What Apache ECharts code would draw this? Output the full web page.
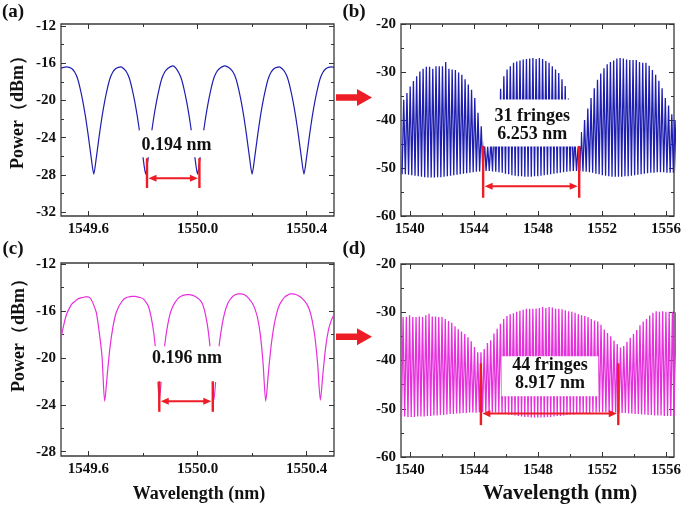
<!DOCTYPE html>
<html><head><meta charset="utf-8">
<script src="https://cdn.jsdelivr.net/npm/echarts@6/dist/echarts.min.js"></script>
<style>html,body{margin:0;padding:0;background:#fff}#main{width:685px;height:508px}</style>
</head><body><div id="main"></div>
<script>
// ---------- DATA ----------
// (a) sampled every 0.01 nm from 1549.50 nm
const aStart = 1549.50, aStep = 0.01;
const aPower = [
 -16.55,-16.45,-16.4,-16.45,-16.6,-16.95,-17.6,-18.7,-20.1,-21.8,
 -23.8,-26.0,-27.9,-26.0,-23.8,-21.8,-20.1,-18.7,-17.6,-16.95,
 -16.6,-16.45,-16.4,-16.6,-16.95,-17.6,-18.7,-20.1,-21.8,-23.8,
 -26.0,-27.9,-26.0,-23.8,-21.8,-20.1,-18.7,-17.6,-16.95,-16.6,
 -16.4,-16.3,-16.5,-16.95,-17.6,-18.7,-20.1,-21.8,-23.8,-26.0,
 -27.9,-26.0,-23.8,-21.8,-20.1,-18.7,-17.6,-16.95,-16.6,-16.4,
 -16.3,-16.4,-16.6,-16.95,-17.6,-18.7,-20.1,-21.8,-23.8,-26.0,
 -27.9,-26.0,-23.8,-21.8,-20.1,-18.7,-17.6,-16.95,-16.6,-16.45,
 -16.4,-16.6,-16.95,-17.6,-18.7,-20.1,-21.8,-23.8,-26.0,-27.9,
 -26.0,-23.8,-21.8,-20.1,-18.7,-17.6,-16.95,-16.6,-16.45,-16.4,
 -16.45
];
// (c) sampled every 0.01 nm from 1549.50 nm
const cStart = 1549.50, cStep = 0.01;
const cPower = [
 -18.3,-17.2,-16.3,-15.8,-15.4,-15.2,-15.0,-14.9,-14.85,-14.8,
 -14.8,-15.0,-15.5,-16.2,-17.8,-19.8,-23.7,-21.3,-19.0,-17.4,
 -16.3,-15.7,-15.3,-15.0,-14.85,-14.8,-14.75,-14.75,-14.8,-14.85,
 -14.95,-15.2,-15.6,-16.5,-17.9,-20.2,-23.6,-21.2,-18.9,-17.3,
 -16.2,-15.6,-15.2,-14.9,-14.75,-14.65,-14.6,-14.6,-14.65,-14.75,
 -14.9,-15.1,-15.5,-16.4,-17.8,-20.2,-23.6,-21.0,-18.8,-17.2,
 -16.1,-15.4,-15.0,-14.75,-14.6,-14.55,-14.55,-14.6,-14.75,-15.0,
 -15.3,-15.8,-16.6,-18.0,-20.4,-23.7,-21.2,-18.9,-17.3,-16.2,
 -15.5,-15.1,-14.8,-14.65,-14.55,-14.55,-14.6,-14.7,-14.85,-15.1,
 -15.4,-15.9,-16.8,-18.2,-20.5,-23.6,-21.2,-19.0,-17.6,-16.8,
 -16.3
];
// (b) fringe peaks / troughs (dBm), one per fringe; spacing 6.253 nm / 31 fringes
const bFringeStart = 1539.62, bFringeSpacing = 6.253 / 31;
const bPeak = [
 -35.8,-34.4,-33.0,-31.9,-30.9,-29.9,-29.3,-28.9,-28.9,-29.3,
 -28.8,-28.8,-28.8,-27.9,-29.3,-29.5,-29.6,-30.1,-30.6,-31.5,
 -32.6,-33.7,-35.4,-38.5,-41.3,-44.5,-45.5,-44.0,-40.0,-36.5,
 -33.5,-30.9,-29.5,-28.8,-28.1,-27.8,-27.6,-27.4,-27.3,-27.2,
 -27.1,-27.3,-27.1,-27.3,-27.7,-28.1,-28.8,-29.5,-30.2,-31.5,
 -32.9,-35.5,-39.0,-44.0,-45.5,-42.5,-40.0,-37.6,-35.4,-33.4,
 -31.6,-30.3,-29.2,-28.4,-27.9,-27.6,-27.2,-27.1,-27.2,-27.4,
 -27.5,-27.5,-27.5,-27.9,-28.1,-28.1,-28.7,-29.6,-30.6,-31.8,
 -33.4,-35.4,-37.0,-38.8,-40.0
];
const bTrough = [
 -51.3,-51.4,-51.5,-51.6,-51.7,-51.8,
 -51.9,-52.0,-52.0,-52.0,-51.9,-51.9,-51.8,-51.7,-51.6,
 -51.5,-51.4,-51.3,-51.2,-51.1,-51.0,
 -50.9,-50.8,-50.7,-50.6,-50.6,-50.6,-50.7,-50.8,-50.9,
 -51.0,-51.2,-51.3,-51.5,-51.6,-51.7,-51.7,-51.8,-51.8,-51.8,-51.7,
 -51.7,-51.6,-51.5,-51.4,-51.3,-51.2,-51.1,-51.0,-50.9,-50.8,
 -50.7,-50.6,-50.6,-50.6,-50.7,-50.8,
 -50.9,-51.0,-51.2,-51.3,-51.5,-51.6,-51.7,-51.8,-51.8,-51.8,-51.8,-51.7,-51.7,
 -51.6,-51.5,-51.4,-51.3,-51.2,-51.1,-51.0,-51.0,-50.9,-50.9,-50.9,-51.0,-51.0,-51.0,-51.0
];
// (d) spacing 8.917 nm / 44 fringes
const dFringeStart = 1539.58, dFringeSpacing = 8.917 / 44;
const dPeak = [
 -31.0,-31.0,-30.6,-31.0,-31.0,-30.9,-31.0,-30.6,-30.3,-30.9,
 -30.9,-31.0,-31.0,-31.4,-31.8,-32.2,-32.9,-33.5,-34.0,-34.5,
 -35.2,-36.0,-37.2,-38.3,-38.3,-37.6,-36.4,-35.8,-34.4,-33.4,
 -32.4,-31.4,-30.8,-30.4,-30.2,-29.9,-29.7,-29.5,-29.3,-29.3,
 -29.3,-29.2,-29.1,-28.9,-29.1,-28.9,-29.0,-29.3,-29.3,-29.4,
 -29.6,-29.8,-29.9,-30.1,-30.4,-30.6,-30.8,-31.0,-31.4,-31.7,
 -31.9,-32.6,-33.6,-34.3,-35.0,-35.9,-36.6,-37.3,-37.0,-36.1,
 -35.3,-34.5,-33.7,-32.7,-31.9,-31.4,-30.7,-30.1,-29.8,-29.9,
 -29.8,-29.9,-29.9,-29.9,-30.0
];
const dTrough = [
 -51.6,-51.7,-51.7,-51.7,-51.6,-51.6,-51.6,-51.5,-51.5,-51.4,-51.4,-51.3,-51.3,
 -51.2,-51.1,-51.1,-51.0,-51.0,-50.9,-50.9,-50.8,-50.8,-50.8,
 -50.7,-50.7,-50.7,-50.7,-50.8,-50.8,
 -50.9,-51.0,-51.1,-51.2,-51.3,-51.4,-51.5,-51.6,-51.7,-51.7,
 -51.8,-51.8,-51.8,-51.8,-51.8,-51.7,-51.7,-51.6,-51.5,-51.5,
 -51.4,-51.3,-51.2,-51.2,-51.1,-51.0,-51.0,
 -50.9,-50.9,-50.8,-50.8,-50.7,-50.7,-50.7,-50.7,-50.7,-50.8,-50.8,-50.9,-50.9,
 -51.0,-51.0,-51.1,-51.1,-51.2,-51.2,-51.3,-51.3,-51.4,-51.4,-51.4,-51.5,-51.5,-51.5,-51.5,-51.5
];
// tick values
const xTicksAC = [1549.6, 1550.0, 1550.4], xMinorAC = [1549.8, 1550.2];
const yTicksA = [-32, -28, -24, -20, -16, -12], yMinorA = [-30, -26, -22, -18, -14];
const yTicksC = [-28, -24, -20, -16, -12], yMinorC = [-26, -22, -18, -14];
const xTicksBD = [1540, 1544, 1548, 1552, 1556], xMinorBD = [1542, 1546, 1550, 1554];
const yTicksBD = [-60, -50, -40, -30, -20], yMinorBD = [-55, -45, -35, -25];
// annotations
const annA = { texts: ['0.194 nm'], bars: [1549.815, 1550.007] };
const annB = { texts: ['31 fringes', '6.253 nm'], bars: [1544.58, 1550.58] };
const annC = { texts: ['0.196 nm'], bars: [1549.86, 1550.056] };
const annD = { texts: ['44 fringes', '8.917 nm'], bars: [1544.44, 1553.02] };

// ---------- build series data ----------
function sampled(start, step, vals) { return vals.map((v, i) => [+(start + i * step).toFixed(3), v]); }
function fringes(start, sp, peaks, troughs) {
  const out = [[start - sp / 2, troughs[0]]];
  peaks.forEach((p, i) => { out.push([start + i * sp, p]); out.push([start + (i + 0.5) * sp, troughs[i]]); });
  return out;
}
const BLUE = '#1e1eb0', MAG = '#e530dc', RED = '#ee1c24';
const FONT = '"Liberation Serif","Times New Roman",serif';

const panels = [
  { grid: { left: 61, top: 24, width: 273, height: 192 }, x: [1549.5, 1550.5], y: [-32.4, -11.8],
    xMaj: xTicksAC, xMin: xMinorAC, yMaj: yTicksA, yMin: yMinorA, fmt: v => v.toFixed(1),
    data: sampled(aStart, aStep, aPower), color: BLUE, lw: 1.2, smooth: 0.25 },
  { grid: { left: 401, top: 24, width: 273, height: 192 }, x: [1539.45, 1556.5], y: [-60, -20],
    xMaj: xTicksBD, xMin: xMinorBD, yMaj: yTicksBD, yMin: yMinorBD, fmt: v => String(v),
    data: fringes(bFringeStart, bFringeSpacing, bPeak, bTrough), color: BLUE, lw: 1.3, smooth: false },
  { grid: { left: 61, top: 263, width: 273, height: 193 }, x: [1549.5, 1550.5], y: [-28.37, -11.91],
    xMaj: xTicksAC, xMin: xMinorAC, yMaj: yTicksC, yMin: yMinorC, fmt: v => v.toFixed(1),
    data: sampled(cStart, cStep, cPower), color: MAG, lw: 1.2, smooth: 0.25 },
  { grid: { left: 401, top: 264, width: 273, height: 193 }, x: [1539.45, 1556.5], y: [-60, -20],
    xMaj: xTicksBD, xMin: xMinorBD, yMaj: yTicksBD, yMin: yMinorBD, fmt: v => String(v),
    data: fringes(dFringeStart, dFringeSpacing, dPeak, dTrough), color: MAG, lw: 1.3, smooth: false }
];

const grids = [], xAxes = [], yAxes = [], series = [], axIdx = [];
const labelStyle = { fontFamily: FONT, fontWeight: 'bold', fontSize: 15, color: '#111' };
panels.forEach((p, gi) => {
  grids.push(Object.assign({ show: true, borderColor: '#3a3a3a', borderWidth: 1.3, backgroundColor: 'transparent', containLabel: false, outerBoundsMode: 'none' }, p.grid));
  const base = (dim) => ({ type: 'value', gridIndex: gi, min: dim[0], max: dim[1], splitLine: { show: false }, axisLine: { show: false }, silent: true });
  const tick = (vals, len) => ({ show: true, inside: true, length: len, customValues: vals, lineStyle: { color: '#333', width: 1 } });
  const xi = xAxes.length, yi = yAxes.length;
  xAxes.push(Object.assign(base(p.x), { position: 'bottom', axisTick: tick(p.xMaj, 5), axisLabel: Object.assign({ show: true, customValues: p.xMaj, formatter: p.fmt, margin: 6 }, labelStyle) }));
  xAxes.push(Object.assign(base(p.x), { position: 'bottom', axisTick: tick(p.xMin, 3), axisLabel: { show: false } }));
  xAxes.push(Object.assign(base(p.x), { position: 'top', axisTick: tick(p.xMaj, 5), axisLabel: { show: false } }));
  xAxes.push(Object.assign(base(p.x), { position: 'top', axisTick: tick(p.xMin, 3), axisLabel: { show: false } }));
  yAxes.push(Object.assign(base(p.y), { position: 'left', axisTick: tick(p.yMaj, 5), axisLabel: Object.assign({ show: true, customValues: p.yMaj, margin: 5 }, labelStyle) }));
  yAxes.push(Object.assign(base(p.y), { position: 'left', axisTick: tick(p.yMin, 3), axisLabel: { show: false } }));
  yAxes.push(Object.assign(base(p.y), { position: 'right', axisTick: tick(p.yMaj, 5), axisLabel: { show: false } }));
  yAxes.push(Object.assign(base(p.y), { position: 'right', axisTick: tick(p.yMin, 3), axisLabel: { show: false } }));
  axIdx.push({ xi, yi });
  series.push({ type: 'line', xAxisIndex: xi, yAxisIndex: yi, data: p.data, showSymbol: false, symbol: 'none',
    smooth: p.smooth, lineStyle: { color: p.color, width: p.lw }, clip: true, silent: true, z: 2 });
});

const chart = echarts.init(document.getElementById('main'));
chart.setOption({ animation: false, backgroundColor: '#fff', grid: grids, xAxis: xAxes, yAxis: yAxes, series });

// ---------- annotations (positioned from data coordinates) ----------
function P(pi, x, y) { return chart.convertToPixel({ xAxisIndex: axIdx[pi].xi, yAxisIndex: axIdx[pi].yi }, [x, y]); }
const g = [];
function txt(x, y, s, size, rot) {
  g.push({ type: 'text', x, y, rotation: rot || 0, z: 60,
    style: { text: s, font: 'bold ' + size + 'px ' + FONT, fill: '#111', align: 'center', verticalAlign: 'middle', textAlign: 'center', textVerticalAlign: 'middle' } });
}
function measure(pi, ann, box, textY, barTop, barBot, arrowY) {
  const b1 = P(pi, box[0], box[2]), b2 = P(pi, box[1], box[3]);
  g.push({ type: 'rect', z: 50, shape: { x: b1[0], y: b1[1], width: b2[0] - b1[0], height: b2[1] - b1[1] }, style: { fill: '#fff' } });
  const cx = (b1[0] + b2[0]) / 2;
  ann.texts.forEach((t, i) => { const p = P(pi, box[0], textY[i]); txt(cx, p[1], t, 18); });
  const l1 = P(pi, ann.bars[0], barTop), l2 = P(pi, ann.bars[0], barBot);
  const r1 = P(pi, ann.bars[1], barTop), r2 = P(pi, ann.bars[1], barBot);
  [[l1, l2], [r1, r2]].forEach(([a, b]) => g.push({ type: 'line', z: 70, shape: { x1: a[0], y1: a[1], x2: b[0], y2: b[1] }, style: { stroke: RED, lineWidth: 2.4 } }));
  const ay = P(pi, ann.bars[0], arrowY)[1];
  const xL = l1[0] + 1.5, xR = r1[0] - 1.5;
  g.push({ type: 'line', z: 70, shape: { x1: xL + 5, y1: ay, x2: xR - 5, y2: ay }, style: { stroke: RED, lineWidth: 2 } });
  g.push({ type: 'polygon', z: 70, shape: { points: [[xL, ay], [xL + 8, ay - 3.6], [xL + 8, ay + 3.6]] }, style: { fill: RED } });
  g.push({ type: 'polygon', z: 70, shape: { points: [[xR, ay], [xR - 8, ay - 3.6], [xR - 8, ay + 3.6]] }, style: { fill: RED } });
}
measure(0, annA, [1549.785, 1550.062, -23.2, -26.1], [-24.8], -26.2, -29.4, -28.35);
measure(1, annB, [1544.62, 1550.67, -35.75, -45.5], [-39.2, -43.0], -45.4, -56.2, -53.8);
measure(2, annC, [1549.826, 1550.097, -19.0, -22.05], [-20.0], -22.0, -24.6, -23.7);
measure(3, annD, [1545.73, 1551.77, -39.1, -47.4], [-40.95, -44.75], -40.6, -53.4, -51.0);

// panel letters, axis names, big arrows
txt(13, 12, '(a)', 19); txt(354, 12, '(b)', 19); txt(13, 249, '(c)', 19); txt(354, 249, '(d)', 19);
txt(18, 108, 'Power（dBm）', 18, Math.PI / 2);
txt(19, 331, 'Power（dBm）', 18, Math.PI / 2);
txt(199, 494, 'Wavelength (nm)', 18);
txt(560, 494, 'Wavelength (nm)', 21);
function bigArrow(cy) {
  g.push({ type: 'polygon', z: 80, shape: { points: [[336, cy - 3.3], [357, cy - 3.3], [357, cy - 8.5], [372, cy], [357, cy + 8.5], [357, cy + 3.3], [336, cy + 3.3]] }, style: { fill: RED } });
}
bigArrow(97.5); bigArrow(336.8);
chart.setOption({ graphic: { elements: g } });
</script></body></html>
